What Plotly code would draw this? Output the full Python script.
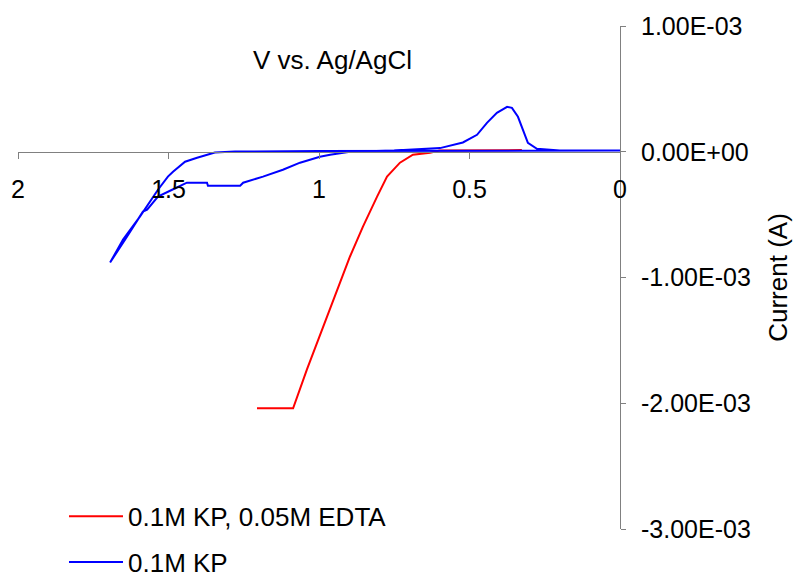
import plotly.graph_objects as go

# Cyclic voltammograms: potential (V vs. Ag/AgCl) and current (A)
kp_edta_v = [0.326, 0.45, 0.60, 0.631, 0.688, 0.731, 0.774, 0.807, 0.854,
             0.897, 0.930, 0.987, 1.040, 1.086, 1.206]
kp_edta_i = [1.3e-5, 1.3e-5, 1.0e-5, -0.8e-5, -2.4e-5, -8.7e-5, -1.98e-4,
             -3.57e-4, -5.95e-4, -8.33e-4, -1.04e-3, -1.39e-3, -1.73e-3,
             -2.04e-3, -2.04e-3]

kp_v = [0.0, 0.60, 1.00, 1.279, 1.346, 1.405, 1.445, 1.485, 1.502, 1.535,
        1.571, 1.595, 1.651, 1.694,
        1.638, 1.585, 1.571, 1.535, 1.488, 1.439, 1.372, 1.369, 1.262,
        1.252, 1.186, 1.120, 1.063, 0.997, 0.963, 0.897, 0.75, 0.598,
        0.522, 0.475, 0.442, 0.409, 0.375, 0.359, 0.339, 0.322, 0.306,
        0.276, 0.20, 0.0]
kp_i = [1.0e-5, 1.0e-5, 0.5e-5, 0.2e-5, -0.6e-5, -4.8e-5, -7.9e-5, -1.59e-4,
        -1.98e-4, -3.02e-4, -4.37e-4, -5.16e-4, -6.98e-4, -8.81e-4,
        -6.75e-4, -4.76e-4, -4.60e-4, -3.57e-4, -3.02e-4, -2.46e-4,
        -2.46e-4, -2.70e-4, -2.70e-4, -2.46e-4, -1.98e-4, -1.43e-4,
        -0.87e-4, -0.40e-4, -0.24e-4, 0.0, 1.0e-5, 2.9e-5, 7.4e-5, 1.35e-4,
        2.30e-4, 3.10e-4, 3.57e-4, 3.49e-4, 2.78e-4, 1.75e-4, 0.71e-4,
        2.4e-5, 1.0e-5, 1.0e-5]

series_names = ["0.1M KP, 0.05M EDTA", "0.1M KP"]
series_colors = ["#FF0000", "#0000FF"]

x_tick_vals = [2, 1.5, 1, 0.5, 0]
x_tick_text = ["2", "1.5", "1", "0.5", "0"]
y_tick_vals = [1e-3, 0, -1e-3, -2e-3, -3e-3]
y_tick_text = ["1.00E-03", "0.00E+00", "-1.00E-03", "-2.00E-03", "-3.00E-03"]

FAMILY = "Liberation Sans, Arial, sans-serif"
FONT = dict(family=FAMILY, size=26, color="#000000")
TICK_FONT = dict(family=FAMILY, size=25, color="#000000")
AXIS_GREY = "#808080"

fig = go.Figure()
fig.add_trace(go.Scatter(x=kp_edta_v, y=kp_edta_i, mode="lines",
                         name=series_names[0], legendgroup="a",
                         line=dict(color=series_colors[0], width=2)))
fig.add_trace(go.Scatter(x=kp_v, y=kp_i, mode="lines",
                         name=series_names[1], legendgroup="b",
                         line=dict(color=series_colors[1], width=2)))

fig.update_layout(
    width=793, height=581,
    margin=dict(l=18, r=173, t=26, b=52, autoexpand=False),
    paper_bgcolor="white", plot_bgcolor="white",
    font=FONT,
    showlegend=True,
    legend=dict(x=0.0764, y=0.072, xanchor="left", yanchor="top",
                bgcolor="rgba(0,0,0,0)", tracegroupgap=9,
                itemwidth=54, font=FONT),
    xaxis=dict(range=[2, 0], autorange=False,
               anchor="free", position=0.75, side="bottom",
               showline=True, linecolor=AXIS_GREY, linewidth=1,
               ticks="outside", ticklen=6, tickcolor=AXIS_GREY,
               tickvals=x_tick_vals, ticktext=x_tick_text,
               tickfont=TICK_FONT, ticklabelstandoff=9,
               showgrid=False, zeroline=False),
    yaxis=dict(range=[-3e-3, 1e-3], autorange=False, side="right",
               showline=True, linecolor=AXIS_GREY, linewidth=1,
               ticks="outside", ticklen=5, tickcolor=AXIS_GREY,
               tickvals=y_tick_vals, ticktext=y_tick_text,
               tickfont=TICK_FONT, ticklabelstandoff=10,
               title=dict(text="Current (A)", standoff=24, font=FONT),
               showgrid=False, zeroline=False),
    annotations=[dict(text="V vs. Ag/AgCl", xref="paper", yref="paper",
                      x=0.5216, y=0.932, xanchor="center", yanchor="middle",
                      showarrow=False, font=FONT)],
)

fig.write_html("out.html")
